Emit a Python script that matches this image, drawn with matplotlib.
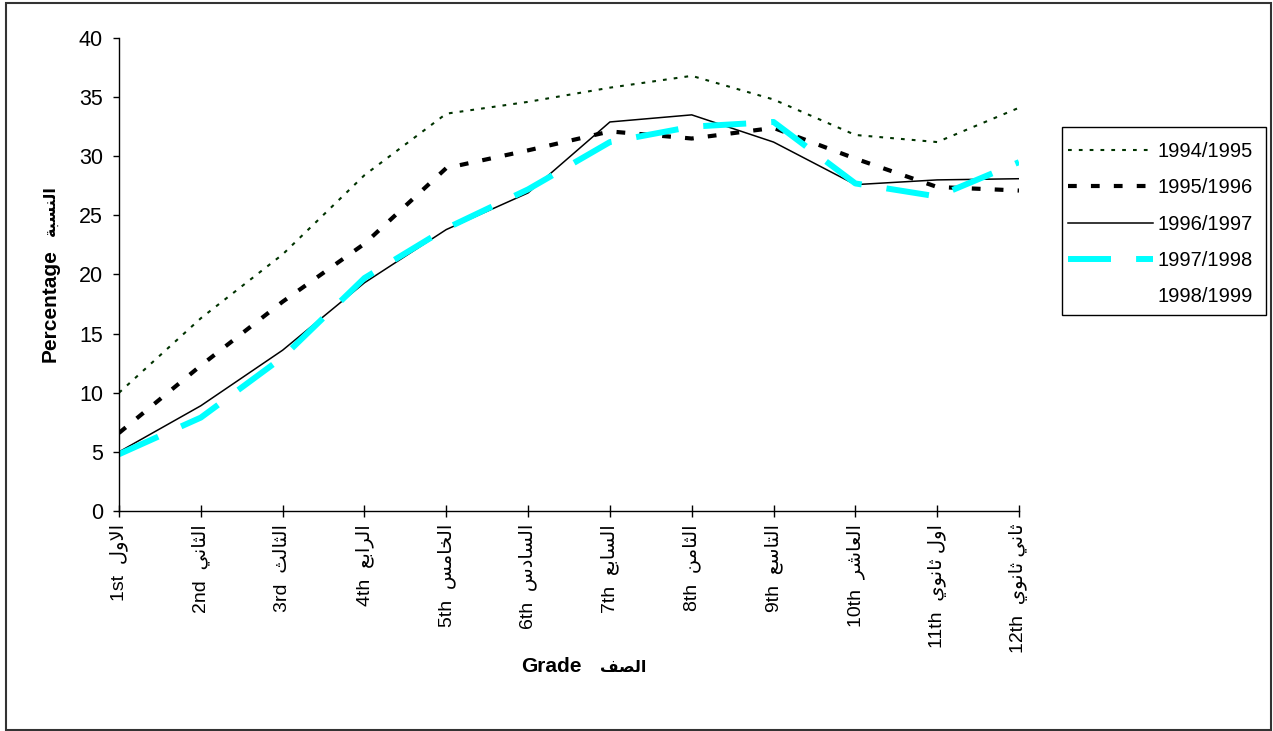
import matplotlib
matplotlib.use("Agg")
import matplotlib.pyplot as plt
from matplotlib.patches import Rectangle

plt.rcParams['font.family'] = ['Liberation Sans', 'DejaVu Sans']

# ---------------- data ----------------
grades_en = ['1st', '2nd', '3rd', '4th', '5th', '6th', '7th', '8th', '9th', '10th', '11th', '12th']
grades_ar = ['الاول', 'الثاني', 'الثالث', 'الرابع', 'الخامس', 'السادس',
             'السابع', 'الثامن', 'التاسع', 'العاشر', 'اول ثانوي', 'ثاني ثانوي']

s_1994_1995 = [10.0, 16.3, 21.7, 28.4, 33.6, 34.6, 35.8, 36.8, 34.8, 31.8, 31.2, 34.1]
s_1995_1996 = [6.6, 12.3, 17.7, 22.6, 29.0, 30.5, 32.1, 31.5, 32.4, 29.8, 27.4, 27.1]
s_1996_1997 = [5.0, 8.9, 13.6, 19.3, 23.8, 26.9, 32.9, 33.5, 31.2, 27.6, 28.0, 28.1]
s_1997_1998 = [4.8, 7.9, 13.0, 19.7, 23.9, 27.2, 31.2, 32.5, 32.9, 27.7, 26.6, 29.5]
s_1998_1999 = []   # listed in the legend only, no visible line

series_labels = ['1994/1995', '1995/1996', '1996/1997', '1997/1998', '1998/1999']
yticks = [0, 5, 10, 15, 20, 25, 30, 35, 40]

# ---------------- minimal Arabic shaping (presentation forms) ----------------
FORMS = {
    'ا': ('\uFE8D', '\uFE8E', None, None),
    'أ': ('\uFE83', '\uFE84', None, None),
    'ب': ('\uFE8F', '\uFE90', '\uFE91', '\uFE92'),
    'ة': ('\uFE93', '\uFE94', None, None),
    'ت': ('\uFE95', '\uFE96', '\uFE97', '\uFE98'),
    'ث': ('\uFE99', '\uFE9A', '\uFE9B', '\uFE9C'),
    'خ': ('\uFEA5', '\uFEA6', '\uFEA7', '\uFEA8'),
    'د': ('\uFEA9', '\uFEAA', None, None),
    'ر': ('\uFEAD', '\uFEAE', None, None),
    'س': ('\uFEB1', '\uFEB2', '\uFEB3', '\uFEB4'),
    'ش': ('\uFEB5', '\uFEB6', '\uFEB7', '\uFEB8'),
    'ص': ('\uFEB9', '\uFEBA', '\uFEBB', '\uFEBC'),
    'ع': ('\uFEC9', '\uFECA', '\uFECB', '\uFECC'),
    'ف': ('\uFED1', '\uFED2', '\uFED3', '\uFED4'),
    'ل': ('\uFEDD', '\uFEDE', '\uFEDF', '\uFEE0'),
    'م': ('\uFEE1', '\uFEE2', '\uFEE3', '\uFEE4'),
    'ن': ('\uFEE5', '\uFEE6', '\uFEE7', '\uFEE8'),
    'و': ('\uFEED', '\uFEEE', None, None),
    'ي': ('\uFEF1', '\uFEF2', '\uFEF3', '\uFEF4'),
}
LAMALEF = {'ا': ('\uFEFB', '\uFEFC'), 'أ': ('\uFEF7', '\uFEF8')}


def ar(text):
    out = []
    n = len(text)
    i = 0
    prev_joins = False
    while i < n:
        c = text[i]
        if c not in FORMS:
            out.append(c)
            prev_joins = False
            i += 1
            continue
        if c == 'ل' and i + 1 < n and text[i + 1] in LAMALEF:
            iso, fin = LAMALEF[text[i + 1]]
            out.append(fin if prev_joins else iso)
            prev_joins = False
            i += 2
            continue
        forms = FORMS[c]
        dual = forms[2] is not None
        nxt = text[i + 1] if i + 1 < n else None
        next_joins = dual and (nxt in FORMS)
        if prev_joins and next_joins:
            g = forms[3]
        elif prev_joins:
            g = forms[1]
        elif next_joins:
            g = forms[2]
        else:
            g = forms[0]
        out.append(g)
        prev_joins = next_joins
        i += 1
    return ''.join(reversed(out))


# ---------------- figure ----------------
W, H = 1273, 731
fig = plt.figure(figsize=(W / 100, H / 100), dpi=100)
ax = fig.add_axes([119 / W, 1 - 511 / H, (1019 - 119) / W, (511 - 38) / H])

x = list(range(len(grades_en)))

ax.plot(x, s_1994_1995, color='#003300', lw=1.5, dashes=(1.8, 3.4),
        label=series_labels[0])
ax.plot(x, s_1995_1996, color='black', lw=3.0, dashes=(2.1, 3.4),
        label=series_labels[1])
ax.plot(x, s_1996_1997, color='black', lw=1.1, label=series_labels[2])
ax.plot(x, s_1997_1998, color='#00FFFF', lw=4.3, dashes=(7.2, 4.2),
        label=series_labels[3])
ax.plot(x[:len(s_1998_1999)], s_1998_1999, color='white', lw=1.0,
        label=series_labels[4])

ax.set_xlim(0, len(grades_en) - 1)
ax.set_ylim(0, 40)
ax.set_yticks(yticks)
ax.set_yticklabels([str(v) for v in yticks], fontsize=15.5)
ax.set_xticks(x)
ax.set_xticklabels([f"{e}  {ar(a)}" for e, a in zip(grades_en, grades_ar)],
                   rotation=90, fontsize=14, va='top', ha='center')

for s in ['top', 'right']:
    ax.spines[s].set_visible(False)
for s in ['left', 'bottom']:
    ax.spines[s].set_linewidth(1.0)
    ax.spines[s].set_color('black')

ax.tick_params(axis='y', direction='out', length=4.5, width=1.0, pad=7, colors='black')
ax.tick_params(axis='x', direction='inout', length=8.6, width=1.0, pad=5, colors='black')

# axis titles (English + Arabic parts)
fig.text(582 / W, 1 - 667 / H, "Grade", fontsize=15, fontweight='bold',
         ha='right', va='center')
fig.text(600 / W, 1 - 667 / H, ar('الصف'), fontsize=11.5, fontweight='bold',
         ha='left', va='center')
fig.text(50 / W, 1 - 362 / H, "Percentage", fontsize=15, fontweight='bold',
         ha='center', va='bottom', rotation=90)
fig.text(50 / W, 1 - 236 / H, ar('النسبة'), fontsize=11.5, fontweight='bold',
         ha='center', va='bottom', rotation=90)

# legend (frame drawn separately)
leg = fig.legend(loc='upper left', bbox_to_anchor=(1068 / W, 1 - 142 / H),
                 fontsize=14.5, frameon=False,
                 handlelength=4.2, handletextpad=0.25, labelspacing=0.86,
                 borderpad=0, borderaxespad=0)
fig.patches.append(Rectangle((1062 / W, 1 - 315 / H), (1266 - 1062) / W, (315 - 127) / H,
                             transform=fig.transFigure, fill=False,
                             edgecolor='black', lw=1.0))

# chart-area border
fig.patches.append(Rectangle((6 / W, 1 / H), (1271 - 6) / W, (729 - 2) / H,
                             transform=fig.transFigure, fill=False,
                             edgecolor='#333333', lw=1.5))

fig.savefig('out.png', dpi=100)
